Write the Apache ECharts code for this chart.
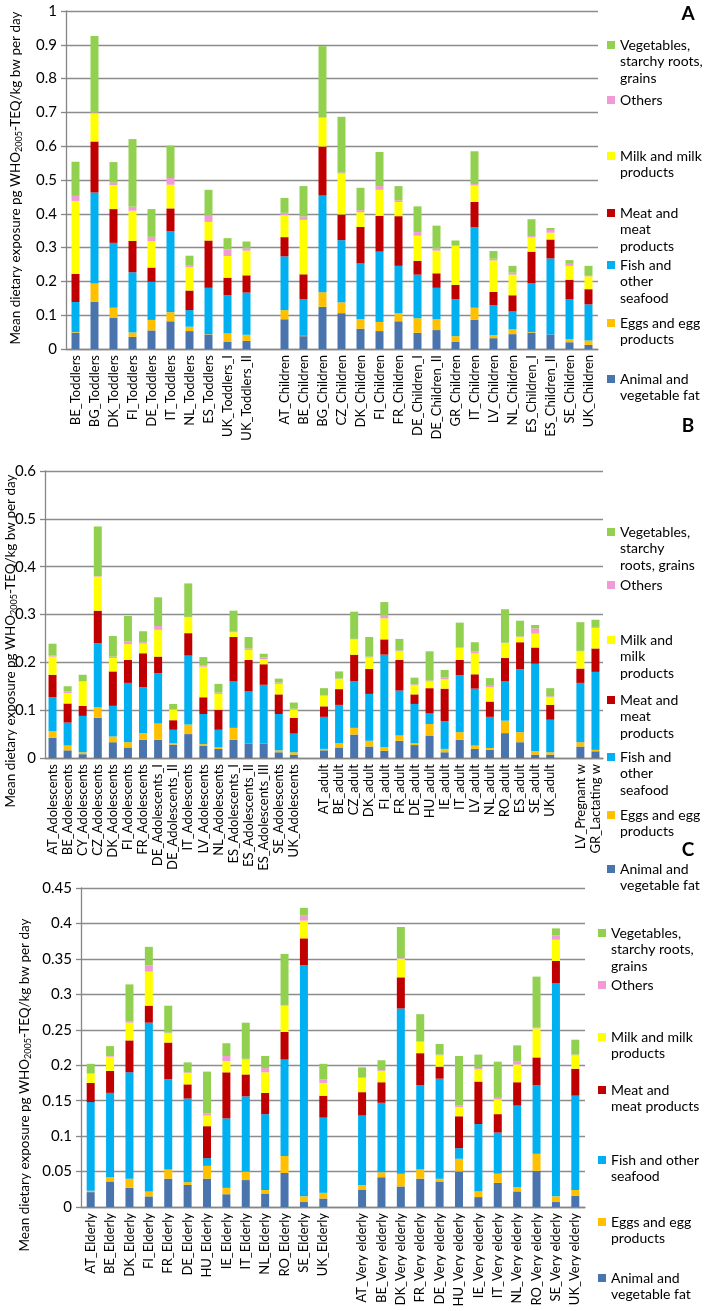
<!DOCTYPE html>
<html><head><meta charset="utf-8">
<script src="https://cdn.jsdelivr.net/npm/echarts@6/dist/echarts.min.js"></script>
<style>html,body{margin:0;padding:0;background:#fff}#c{width:709px;height:1311px}</style>
</head><body><div id="c"></div>
<script>
// ---------- categories ----------
const catA = ['BE_Toddlers','BG_Toddlers','DK_Toddlers','FI_Toddlers','DE_Toddlers','IT_Toddlers','NL_Toddlers','ES_Toddlers','UK_Toddlers_I','UK_Toddlers_II',' ',
  'AT_Children','BE_Children','BG_Children','CZ_Children','DK_Children','FI_Children','FR_Children','DE_Children_I','DE_Children_II','GR_Children','IT_Children','LV_Children','NL_Children','ES_Children_I','ES_Children_II','SE_Children','UK_Children'];
const catB = ['AT_Adolescents','BE_Adolescents','CY_Adolescents','CZ_Adolescents','DK_Adolescents','FI_Adolescents','FR_Adolescents','DE_Adolescents_I','DE_Adolescents_II','IT_Adolescents','LV_Adolescents','NL_Adolescents','ES_Adolescents_I','ES_Adolescents_II','ES_Adolescents_III','SE_Adolescents','UK_Adolescents',' ',
  'AT_adult','BE_adult','CZ_adult','DK_adult','FI_adult','FR_adult','DE_adult','HU_adult','IE_adult','IT_adult','LV_adult','NL_adult','RO_adult','ES_adult','SE_adult','UK_adult','  ',
  'LV_Pregnant w','GR_Lactating w'];
const catC = ['AT_Elderly','BE_Elderly','DK_Elderly','FI_Elderly','FR_Elderly','DE_Elderly','HU_Elderly','IE_Elderly','IT_Elderly','NL_Elderly','RO_Elderly','SE_Elderly','UK_Elderly',' ',
  'AT_Very elderly','BE_Very elderly','DK_Very elderly','FR_Very elderly','DE_Very elderly','HU_Very elderly','IE_Very elderly','IT_Very elderly','NL_Very elderly','RO_Very elderly','SE_Very elderly','UK_Very elderly'];

// ---------- series names ----------
const seriesNames = ['Animal and vegetable fat','Eggs and egg products','Fish and other seafood','Meat and meat products','Milk and milk products','Others','Vegetables, starchy roots, grains'];

// ---------- panel A values ----------
const A_fat  = [.048,.140,.093,.036,.055,.082,.053,.043,.022,.024,null,.088,.038,.125,.106,.060,.053,.082,.048,.056,.022,.086,.032,.044,.048,.043,.020,.012];
const A_eggs = [.002,.054,.029,.013,.031,.027,.013,.001,.024,.018,null,.027,.001,.043,.032,.028,.027,.024,.043,.032,.016,.036,.009,.014,.002,.000,.009,.013];
const A_fish = [.089,.269,.192,.178,.113,.239,.049,.137,.113,.125,null,.159,.109,.286,.184,.165,.208,.140,.129,.093,.109,.238,.089,.053,.144,.225,.119,.107];
const A_meat = [.083,.151,.100,.093,.042,.068,.058,.140,.052,.051,null,.057,.073,.145,.076,.108,.106,.147,.041,.043,.043,.075,.039,.048,.094,.056,.057,.045];
const A_milk = [.216,.083,.071,.089,.078,.070,.069,.055,.064,.073,null,.065,.161,.085,.121,.044,.077,.042,.074,.067,.115,.049,.093,.061,.042,.020,.041,.038];
const A_oth  = [.015,.003,.007,.012,.013,.020,.006,.018,.020,.007,null,.007,.010,.002,.003,.006,.011,.005,.011,.006,.001,.004,.005,.006,.004,.008,.006,.004];
const A_veg  = [.101,.226,.061,.200,.082,.096,.028,.077,.033,.020,null,.044,.090,.210,.165,.066,.101,.042,.076,.068,.015,.097,.023,.020,.050,.006,.011,.027];

// ---------- panel B values ----------
const B_fat  = [.042,.016,.008,.084,.033,.022,.038,.038,.028,.050,.026,.019,.038,.030,.030,.012,.007,null,.016,.022,.049,.024,.015,.036,.027,.047,.012,.038,.019,.017,.052,.033,.007,.007,null,.024,.014];
const B_eggs = [.014,.010,.004,.022,.012,.011,.014,.034,.003,.020,.003,.003,.025,.000,.000,.004,.005,null,.003,.009,.014,.012,.008,.011,.004,.024,.007,.016,.007,.004,.026,.021,.007,.005,null,.009,.003];
const B_fish = [.071,.048,.076,.134,.064,.124,.096,.105,.028,.144,.063,.037,.097,.109,.123,.076,.039,null,.067,.080,.098,.098,.193,.094,.082,.022,.058,.119,.119,.065,.083,.132,.183,.068,null,.124,.163];
const B_meat = [.047,.040,.021,.068,.072,.048,.071,.035,.020,.047,.035,.042,.093,.066,.043,.041,.033,null,.022,.033,.055,.052,.032,.064,.020,.053,.068,.032,.030,.032,.048,.056,.034,.031,null,.030,.049];
const B_milk = [.038,.022,.051,.071,.028,.033,.020,.056,.022,.033,.064,.033,.010,.021,.011,.022,.017,null,.022,.021,.032,.024,.044,.018,.019,.014,.020,.025,.044,.030,.031,.011,.029,.016,null,.036,.043];
const B_oth  = [.002,.003,.001,.001,.003,.006,.003,.008,.001,.001,.003,.003,.001,.003,.003,.003,.002,null,.001,.001,.001,.002,.007,.002,.002,.002,.003,.001,.004,.003,.001,.001,.011,.002,null,.001,.002];
const B_veg  = [.025,.011,.013,.104,.043,.053,.023,.060,.011,.070,.017,.018,.044,.024,.008,.008,.013,null,.015,.015,.057,.041,.027,.024,.014,.061,.016,.052,.019,.016,.070,.033,.007,.017,null,.060,.015];

// ---------- panel C values ----------
const C_fat  = [.021,.036,.027,.015,.040,.031,.040,.018,.038,.019,.048,.007,.012,null,.024,.042,.029,.040,.036,.050,.014,.034,.022,.051,.007,.016];
const C_eggs = [.002,.006,.013,.007,.013,.004,.018,.009,.012,.005,.024,.008,.008,null,.007,.007,.018,.013,.004,.018,.008,.013,.006,.024,.008,.008];
const C_fish = [.125,.119,.150,.238,.127,.118,.011,.098,.106,.107,.136,.326,.106,null,.098,.098,.233,.119,.141,.015,.095,.058,.115,.097,.301,.133];
const C_meat = [.027,.031,.045,.024,.052,.020,.045,.065,.031,.030,.039,.038,.031,null,.033,.029,.044,.045,.017,.045,.060,.026,.033,.039,.031,.038];
const C_milk = [.013,.020,.025,.048,.013,.016,.015,.016,.021,.029,.037,.025,.018,null,.020,.016,.026,.016,.016,.013,.017,.021,.025,.041,.030,.019];
const C_oth  = [.001,.001,.002,.009,.001,.001,.003,.007,.001,.006,.001,.007,.005,null,.001,.001,.001,.001,.001,.002,.002,.002,.004,.001,.006,.001];
const C_veg  = [.013,.014,.052,.026,.038,.014,.059,.018,.051,.017,.072,.011,.022,null,.014,.014,.044,.038,.015,.070,.019,.051,.023,.072,.010,.021];

// ---------- y-axis ticks ----------
const yMaxA = 1, yStepA = 0.1;
const yMaxB = 0.6, yStepB = 0.1;
const yMaxC = 0.45, yStepC = 0.05;

// ---------- legend texts per panel ----------
const legendA = ['Animal and\nvegetable fat','Eggs and egg\nproducts','Fish and\nother\nseafood','Meat and\nmeat\nproducts','Milk and milk\nproducts','Others','Vegetables,\nstarchy roots,\ngrains'];
const legendB = ['Animal and\nvegetable fat','Eggs and egg\nproducts','Fish and\nother\nseafood','Meat and\nmeat\nproducts','Milk and\nmilk\nproducts','Others','Vegetables,\nstarchy\nroots, grains'];
const legendC = ['Animal and\nvegetable fat','Eggs and egg\nproducts','Fish and other\nseafood','Meat and\nmeat products','Milk and milk\nproducts','Others','Vegetables,\nstarchy roots,\ngrains'];

// ---------- styling / layout ----------
const colors = ['#4a74ad','#ffc000','#00b0f0','#c00000','#ffff00','#f29ad8','#92d050'];
const FONT = 'Lato, "Open Sans", sans-serif';
const LH = 16.8;
const panels = [
  {grid:{left:66, top:11, width:532, height:338}, cats:catA, max:yMaxA, step:yStepA,
   data:[A_fat,A_eggs,A_fish,A_meat,A_milk,A_oth,A_veg], leg:legendA, legLeft:607,
   legY:[379,323,265,213,156,100,45], letterY:14, nameX:16, nameY:178},
  {grid:{left:45, top:471, width:558, height:287}, cats:catB, max:yMaxB, step:yStepB,
   data:[B_fat,B_eggs,B_fish,B_meat,B_milk,B_oth,B_veg], leg:legendB, legLeft:607,
   legY:[869,815,757,700,640,585,532], letterY:426, nameX:11, nameY:641},
  {grid:{left:81, top:888, width:504, height:319}, cats:catC, max:yMaxC, step:yStepC,
   data:[C_fat,C_eggs,C_fish,C_meat,C_milk,C_oth,C_veg], leg:legendC, legLeft:598,
   legY:[1278,1222,1160,1090,1037,985,933], letterY:850, nameX:25, nameY:1085}
];

const grids=[], xAxes=[], yAxes=[], series=[], legends=[], graphics=[];
panels.forEach((p, pi) => {
  grids.push(p.grid);
  xAxes.push({type:'category', gridIndex:pi, data:p.cats,
    axisLine:{lineStyle:{color:'#868686', width:1.3}},
    axisTick:{length:5, lineStyle:{color:'#868686', width:1.3}},
    axisLabel:{rotate:90, interval:0, fontSize:13, fontFamily:FONT, color:'#000', margin:6}});
  yAxes.push({type:'value', gridIndex:pi, min:0, max:p.max, interval:p.step,
    axisLine:{show:true, lineStyle:{color:'#868686', width:1.3}},
    axisTick:{show:true, length:5, lineStyle:{color:'#868686', width:1.3}},
    splitLine:{lineStyle:{color:'#8c8c8c', width:1.4}},
    axisLabel:{fontSize:15, fontFamily:FONT, color:'#000', margin:9,
      formatter: v => String(+v.toFixed(2))}});
  seriesNames.forEach((nm, si) => {
    series.push({type:'bar', name:nm, xAxisIndex:pi, yAxisIndex:pi, stack:'s'+pi,
      barWidth:8, data:p.data[si], itemStyle:{color:colors[si]}, animation:false});
    const lines = p.leg[si].split('\n').length;
    const H = lines*LH;
    const s0 = LH/2 - 4;
    legends.push({show:true, left:p.legLeft, top:p.legY[si]-LH/2, padding:0, selectedMode:false,
      itemWidth:8, itemHeight:H, data:[nm],
      icon:`path://M0,0L8,0L0,0Z M0,${s0}L8,${s0}L8,${s0+8}L0,${s0+8}Z M0,${H}L8,${H}L0,${H}Z`,
      formatter:p.leg[si],
      textStyle:{fontSize:14, fontFamily:FONT, color:'#000', lineHeight:LH}});
  });
  graphics.push({type:'text', x:p.nameX, y:p.nameY, rotation:Math.PI/2,
    style:{text:'{a|Mean dietary exposure pg WHO}{b|2005}{a|-TEQ/kg bw per day}',
      align:'center', verticalAlign:'middle', fill:'#000',
      rich:{a:{fontSize:13.5, fontFamily:FONT, fill:'#000'}, b:{fontSize:9, fontFamily:FONT, fill:'#000', verticalAlign:'bottom', padding:[6,0,0,0]}}}});
  graphics.push({type:'text', x:688, y:p.letterY,
    style:{text:['A','B','C'][pi], align:'center', verticalAlign:'middle', fill:'#000', font:'bold 19px '+FONT}});
});

const chart = echarts.init(document.getElementById('c'), null, {renderer:'canvas'});
chart.setOption({animation:false, backgroundColor:'#fff', grid:grids, xAxis:xAxes, yAxis:yAxes,
  series:series, legend:legends, graphic:graphics});
</script></body></html>
